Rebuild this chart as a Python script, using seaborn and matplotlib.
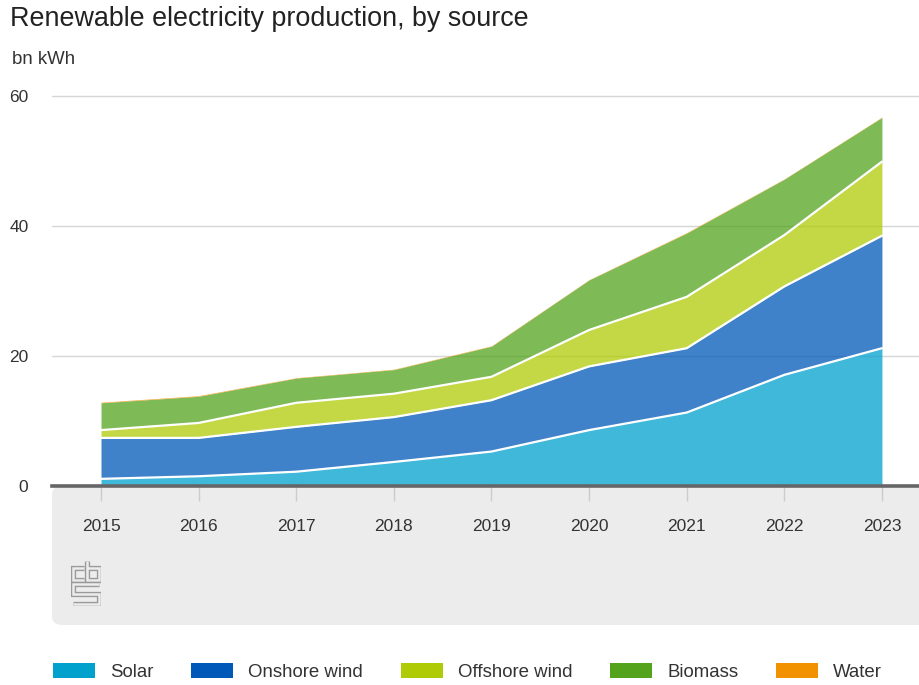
import matplotlib
matplotlib.use("Agg")
import matplotlib.pyplot as plt
import matplotlib.patheffects as pe
from matplotlib.patches import FancyBboxPatch, Patch
import seaborn as sns
import pandas as pd
import numpy as np

# ---- data (bn kWh) ----
years = [2015, 2016, 2017, 2018, 2019, 2020, 2021, 2022, 2023]
solar = [1.1, 1.5, 2.2, 3.7, 5.3, 8.6, 11.3, 17.1, 21.2]
onshore_wind = [6.3, 5.9, 6.9, 6.9, 7.9, 9.8, 9.9, 13.6, 17.3]
offshore_wind = [1.2, 2.3, 3.7, 3.6, 3.6, 5.6, 7.9, 7.9, 11.4]
biomass = [4.2, 4.1, 3.8, 3.7, 4.7, 7.7, 9.8, 8.6, 6.8]
water = [0.09, 0.10, 0.06, 0.07, 0.07, 0.05, 0.09, 0.05, 0.06]
series_names = ["Solar", "Onshore wind", "Offshore wind", "Biomass", "Water"]
y_ticks = [0, 20, 40, 60]

legend_colors = ["#00a1cd", "#0058b8", "#afcb05", "#53a31d", "#f39200"]

sns.set_theme(style="white")
plt.rcParams["font.family"] = ["Liberation Sans", "DejaVu Sans"]

W, H = 920, 685
fig = plt.figure(figsize=(W / 100, H / 100), dpi=100)
fig.patch.set_facecolor("white")

def fx(px):
    return px / W

def fy(py):
    return 1 - py / H

# grey panel under the x axis
panel = FancyBboxPatch((fx(52), fy(625)), fx(920) - fx(52) + 0.02, fy(486) - fy(625),
                       boxstyle="round,pad=0,rounding_size=0.012",
                       transform=fig.transFigure, facecolor="#ececec",
                       edgecolor="none", zorder=0)
fig.patches.append(panel)

# axes
top_px, bot_px = 94, 486
ax = fig.add_axes([fx(52), fy(bot_px), fx(920) - fx(52), (bot_px - top_px) / H])
ax.set_facecolor("white")
ax.set_zorder(1)

series = [solar, onshore_wind, offshore_wind, biomass, water]
ax.stackplot(years, *series, colors=legend_colors, alpha=0.75, linewidth=0, zorder=2)

# white separating lines between layers, drawn with seaborn
cum = np.cumsum(np.array(series), axis=0)
df = pd.DataFrame({
    "year": years * 3,
    "value": np.concatenate([cum[0], cum[1], cum[2]]),
    "layer": ["a"] * len(years) + ["b"] * len(years) + ["c"] * len(years),
})
sns.lineplot(data=df, x="year", y="value", units="layer", estimator=None,
             color="white", linewidth=1.6, ax=ax, zorder=3, legend=False)

ax.set_xlim(2014.498, 2023.39)
ax.set_ylim(0, (bot_px - top_px) / 6.5)
ax.set_yticks(y_ticks)
ax.set_xticks(years)
ax.set_xticklabels([str(y) for y in years])
ax.set_xlabel("")
ax.set_ylabel("")
ax.yaxis.grid(True, color="#d6d6d6", linewidth=1.0, zorder=1)
ax.set_axisbelow(True)
for s in ["top", "right", "left"]:
    ax.spines[s].set_visible(False)
ax.spines["bottom"].set_color("#666666")
ax.spines["bottom"].set_linewidth(2.6)
ax.spines["bottom"].set_zorder(5)
ax.tick_params(axis="y", length=0, pad=17, labelsize=12.5, labelcolor="#333333")
ax.tick_params(axis="x", bottom=True, length=11, width=1, color="#cccccc",
               pad=13, labelsize=12.5, labelcolor="#333333")

# titles
fig.text(fx(10), fy(19), "Renewable electricity production, by source",
         fontsize=19.4, color="#222222", va="center", ha="left")
fig.text(fx(12), fy(60), "bn kWh", fontsize=13.4, color="#333333",
         va="center", ha="left")

# CBS logo (outlined strokes)
lax = fig.add_axes([fx(71), fy(606), fx(30), (606 - 560) / H])
lax.set_zorder(3)
lax.patch.set_alpha(0)
lax.set_xlim(-1, 29)
lax.set_ylim(45, -1)
lax.axis("off")
eff = [pe.Stroke(linewidth=3.8, foreground="#9a9a9a"), pe.Normal()]
logo_paths = [
    ([12, 1, 1, 12], [7, 7, 19, 19]),
    ([15, 15, 27, 27, 15], [0, 19, 19, 7, 7]),
    ([27, 1, 1, 27, 27, 1], [23, 23, 32.5, 32.5, 43, 43]),
]
for xs, ys in logo_paths:
    lax.plot(xs, ys, color="#ececec", linewidth=1.8, solid_joinstyle="miter",
             solid_capstyle="butt", path_effects=eff)

# legend
handles = [Patch(facecolor=c, edgecolor="none", label=n)
           for c, n in zip(legend_colors, series_names)]
fig.legend(handles=handles, loc="center left",
           bbox_to_anchor=(fx(53), fy(672)), ncol=5, frameon=False,
           fontsize=13.4, handlelength=2.25, handleheight=0.85,
           handletextpad=0.8, columnspacing=2.05, borderpad=0,
           borderaxespad=0, labelcolor="#333333")

fig.savefig("out.png", dpi=100, facecolor="white")
